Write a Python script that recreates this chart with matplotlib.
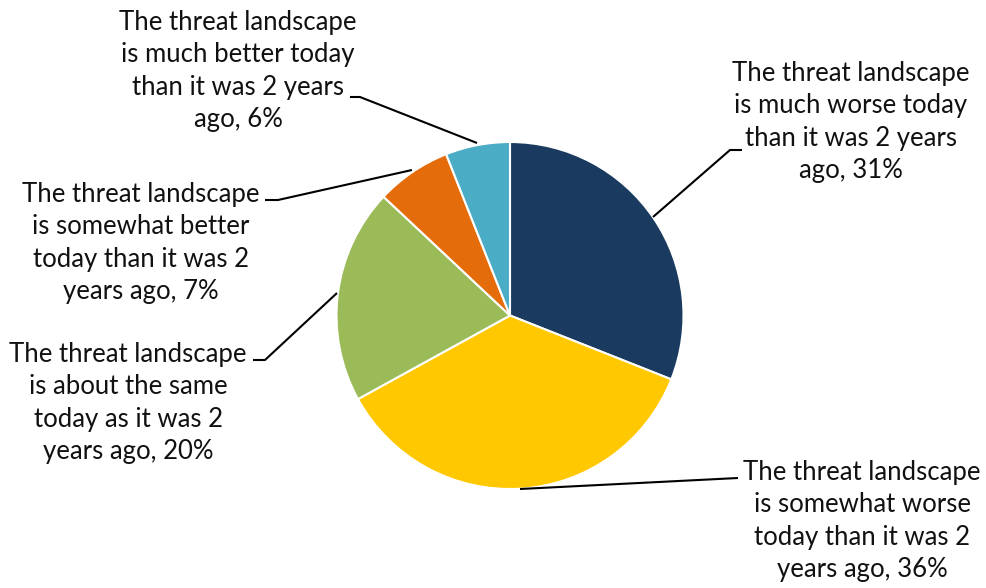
import matplotlib.pyplot as plt

# Survey answers, clockwise from 12 o'clock
labels = [
    "The threat landscape\nis much worse today\nthan it was 2 years\nago, 31%",
    "The threat landscape\nis somewhat worse\ntoday than it was 2\nyears ago, 36%",
    "The threat landscape\nis about the same\ntoday as it was 2\nyears ago, 20%",
    "The threat landscape\nis somewhat better\ntoday than it was 2\nyears ago, 7%",
    "The threat landscape\nis much better today\nthan it was 2 years\nago, 6%",
]
shares = [31, 36, 20, 7, 6]
colors = ["#1A3A5F", "#FFC800", "#9BBB59", "#E46C0A", "#4BACC6"]

W, H = 987, 588

# label centre and leader path (pixel coords, y measured from top)
label_pos = [(851, 122), (862, 521), (128, 403), (141, 243), (238, 71)]
leaders = [
    [(653, 217), (730, 150), (742, 150)],
    [(520, 489), (738, 478)],
    [(337, 293), (265, 360), (253, 360)],
    [(412, 170), (278, 200), (265, 200)],
    [(477, 143), (360, 97), (350, 97)],
]

plt.rcParams['font.family'] = ['Lato', 'DejaVu Sans']

fig = plt.figure(figsize=(W / 100, H / 100), dpi=100)
ax = fig.add_axes([0, 0, 1, 1])

ax.pie(shares, colors=colors, startangle=90, counterclock=False,
       center=(510, H - 315.5), radius=173.5, frame=True,
       wedgeprops=dict(edgecolor='white', linewidth=1.5))
ax.set_xlim(0, W)
ax.set_ylim(0, H)
ax.set_aspect('equal')
ax.axis('off')

for text, (x, y), path in zip(labels, label_pos, leaders):
    ax.text(x, H - y, text, ha='center', va='center', fontsize=18.5,
            linespacing=1.37, color='#111111')
    xs = [p[0] for p in path]
    ys = [H - p[1] for p in path]
    ax.plot(xs, ys, color='black', lw=1.5, solid_capstyle='butt')

fig.savefig('out.png', dpi=100, facecolor='white')
